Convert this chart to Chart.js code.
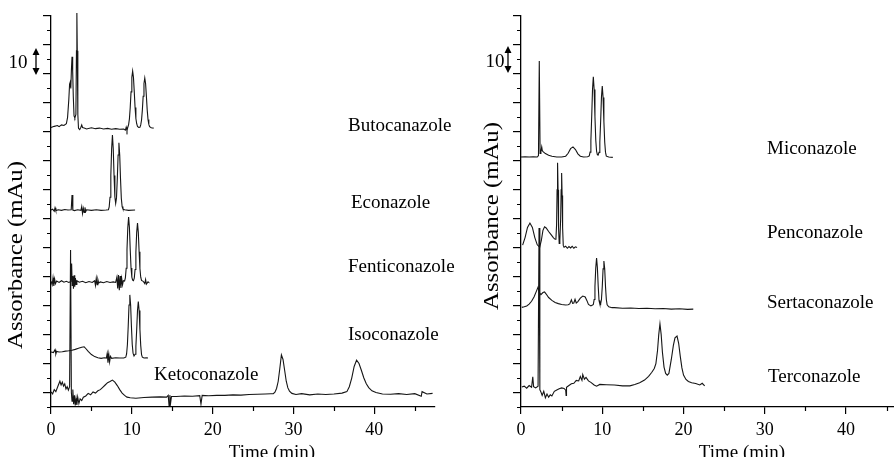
<!DOCTYPE html>
<html>
<head>
<meta charset="utf-8">
<script src="https://cdn.jsdelivr.net/npm/chart.js@4.4.1/dist/chart.umd.min.js"></script>
<style>
  body { margin: 0; background: #fff; width: 894px; height: 457px; overflow: hidden; position: relative; }
  canvas { position: absolute; top: 0; }
  #cL { left: 0; }
  #cR { left: 447px; }
</style>
</head>
<body>
<canvas id="cL" width="520" height="457"></canvas>
<canvas id="cR" width="447" height="457"></canvas>
<script>
// axis ticks (time in min, absorbance in mAu)
const timeTicks = [0, 10, 20, 30, 40];
const timeMinor = [5, 15, 25, 35, 45];
const absMajor = [0, 10, 20, 30, 40, 50, 60, 70, 80, 90, 100, 110, 120, 130];
const absMinor = [-5, 5, 15, 25, 35, 45, 55, 65, 75, 85, 95, 105, 115, 125];

const leftNames = ['Butocanazole', 'Econazole', 'Fenticonazole', 'Isoconazole', 'Ketoconazole'];
const rightNames = ['Miconazole', 'Penconazole', 'Sertaconazole', 'Terconazole'];

// chromatograms, [time, absorbance] (traces are stacked with offsets as in the figure)
const butocanazole = [
  [0, 91.5], [0.4, 91.9], [0.8, 92.2], [1.0, 91.8], [1.3, 92.4], [1.6, 92.2], [1.9, 92.8], [2.05, 95],
  [2.2, 101], [2.3, 106.5], [2.38, 107.2], [2.45, 105], [2.52, 111], [2.6, 115.9], [2.68, 111], [2.76, 102],
  [2.85, 95.5], [2.95, 94.8], [3.08, 96], [3.15, 118], [3.2, 131], [3.25, 118], [3.32, 96], [3.4, 91.2],
  [3.55, 90.8], [3.7, 91.6], [3.8, 92.4], [3.9, 91.5], [4.1, 91.3], [4.4, 91.0], [5, 91.4], [5.5, 91.1],
  [6, 91.3], [6.5, 91.0], [7, 91.2], [7.5, 90.9], [8, 91.1], [8.5, 90.9], [9, 91.0], [9.2, 90.6],
  [9.3, 91.6], [9.4, 90.4], [9.5, 91.6], [9.6, 92.5], [9.7, 94.5], [9.8, 98.4], [9.9, 103.8], [10.0, 108.8],
  [10.1, 111.0], [10.2, 108.8], [10.3, 103.8], [10.4, 98.4], [10.5, 94.6], [10.6, 92.8], [10.7, 91.9],
  [10.85, 91.5], [11.0, 91.6], [11.1, 92.4], [11.2, 94.1], [11.3, 97.5], [11.4, 102.3], [11.5, 106.7],
  [11.6, 108.6], [11.7, 106.7], [11.8, 102.3], [11.9, 97.6], [12.0, 94.3], [12.1, 92.6], [12.2, 91.8],
  [12.4, 91.4], [12.7, 91.3]
];
const econazole = [
  [0, 63.0], [0.2, 63.3], [0.4, 62.6], [0.5, 63.8], [0.6, 62.8], [0.9, 63.1], [1.3, 62.9], [1.7, 63.2],
  [2.1, 63.0], [2.5, 63.1], [2.6, 68.2], [2.7, 63.0], [2.9, 62.8], [3.3, 63.1], [3.7, 62.9], [3.8, 64.2],
  [3.9, 61.8], [4.0, 63.6], [4.1, 62.2], [4.2, 63.9], [4.3, 62.5], [4.4, 63.1], [5, 62.9], [5.6, 63.1],
  [6.2, 62.9], [6.8, 63.0], [7.1, 63.1], [7.2, 64.1], [7.3, 67.4], [7.4, 74.9], [7.5, 84.2], [7.6, 88.9],
  [7.7, 84.2], [7.8, 74.9], [7.9, 67.6], [8.0, 65.3], [8.1, 67.2], [8.2, 73.7], [8.3, 82.0], [8.4, 86.2],
  [8.5, 82.0], [8.6, 73.7], [8.7, 67.0], [8.8, 64.2], [8.9, 63.4], [9.1, 63.1], [9.6, 62.9], [10.4, 63.0]
];
const fenticonazole = [
  [0, 38.4], [0.15, 37.2], [0.25, 39.6], [0.35, 36.8], [0.45, 39.2], [0.55, 37.6], [0.7, 38.5], [1.0, 38.0],
  [1.3, 38.6], [1.6, 38.1], [1.9, 38.4], [2.2, 38.0], [2.45, 38.3], [2.55, 44.5], [2.62, 37], [2.7, 40.2],
  [2.78, 35.8], [2.86, 40.5], [2.94, 36.5], [3.02, 39.5], [3.1, 37.3], [3.2, 38.6], [3.5, 38.1], [3.9, 38.4],
  [4.3, 37.9], [4.7, 38.3], [5.1, 38.0], [5.4, 38.6], [5.5, 37.0], [5.6, 39.4], [5.7, 37.2], [5.8, 39.0],
  [5.9, 37.8], [6.1, 38.2], [6.5, 37.9], [6.9, 38.3], [7.3, 38.0], [7.7, 38.2], [8.0, 38.0], [8.15, 39.8],
  [8.25, 35.9], [8.35, 40.6], [8.45, 35.3], [8.55, 40.2], [8.65, 36.1], [8.75, 39.3], [8.85, 37.2], [8.95, 38.6],
  [9.1, 38.5], [9.2, 39.6], [9.3, 42.9], [9.4, 49.4], [9.5, 57.0], [9.6, 60.6], [9.7, 57.0], [9.8, 49.4],
  [9.9, 43.0], [10.0, 39.8], [10.1, 38.8], [10.2, 38.6], [10.3, 39.5], [10.4, 42.5], [10.5, 48.4], [10.6, 55.3],
  [10.7, 58.5], [10.8, 55.3], [10.9, 48.6], [11.0, 42.8], [11.1, 39.8], [11.2, 38.7], [11.4, 38.4], [11.6, 37.6],
  [11.7, 39.0], [11.8, 37.4], [12.0, 38.2], [12.1, 38.0]
];
const isoconazole = [
  [0, 14.0], [0.3, 13.8], [0.5, 14.8], [0.6, 13.3], [0.7, 14.2], [1.0, 14.0], [1.4, 14.1], [1.8, 14.3],
  [2.2, 14.4], [2.6, 14.6], [3.0, 14.9], [3.4, 15.3], [3.8, 15.6], [4.1, 15.8], [4.3, 15.2], [4.6, 14.2],
  [5.0, 13.1], [5.4, 12.4], [5.8, 12.0], [6.2, 11.8], [6.6, 12.0], [6.85, 11.9], [6.95, 13.5], [7.05, 10.3],
  [7.15, 13.2], [7.25, 10.6], [7.35, 12.5], [7.5, 11.8], [8.0, 12.0], [8.5, 11.9], [9.0, 11.9], [9.25, 12.2],
  [9.35, 13.3], [9.45, 16.5], [9.55, 22.8], [9.65, 30.2], [9.75, 33.7], [9.85, 30.2], [9.95, 22.8], [10.05, 16.6],
  [10.15, 13.6], [10.27, 12.6], [10.4, 13.2], [10.5, 16.0], [10.6, 21.7], [10.7, 28.3], [10.8, 31.4], [10.9, 28.3],
  [11.0, 21.8], [11.1, 16.2], [11.2, 13.1], [11.3, 12.2], [11.5, 11.9], [11.8, 12.0], [12.0, 11.9]
];
const ketoconazole = [
  [0, 0.2], [0.2, -0.5], [0.4, 1.0], [0.6, 0.3], [0.9, 2.5], [1.1, 3.9], [1.25, 2.6], [1.4, 3.6],
  [1.55, 2.2], [1.7, 3.0], [1.85, 1.2], [2.0, 2.0], [2.15, 0.8], [2.3, 2.0], [2.42, 49.2], [2.52, 0.0],
  [2.6, -3.0], [2.7, 1.0], [2.8, -4.0], [2.9, -1.0], [3.0, -4.5], [3.1, -2.0], [3.2, -4.3], [3.3, -1.5],
  [3.45, -3.8], [3.6, -2.2], [3.8, -2.8], [4.0, -1.6], [4.3, -1.2], [4.6, -0.3], [4.9, -0.8], [5.2, 0.2],
  [5.5, -0.2], [5.8, 0.6], [6.1, 1.0], [6.4, 1.8], [6.7, 2.6], [7.0, 3.4], [7.3, 3.8], [7.6, 4.3],
  [7.9, 3.6], [8.2, 2.4], [8.5, 1.0], [8.8, -0.2], [9.1, -1.0], [9.4, -1.6], [9.8, -1.8], [10.5, -2.0],
  [11.5, -1.7], [12.5, -1.6], [13.5, -1.5], [14.3, -1.6], [14.5, -1.0], [14.6, -4.5], [14.7, -0.9], [14.8, -3.5],
  [14.9, -1.4], [15.5, -1.4], [16.5, -1.2], [17.5, -1.3], [18.4, -1.1], [18.55, -4.0], [18.7, -1.0], [19.5, -1.1],
  [20.5, -1.0], [21.5, -1.0], [22.5, -0.8], [23.5, -0.9], [24.5, -0.7], [25.5, -0.6], [26.5, -0.5], [27.2, -0.4],
  [27.5, -0.4], [27.7, 0.1], [27.9, 1.4], [28.1, 3.8], [28.3, 8.2], [28.5, 13.0], [28.7, 11.4], [28.9, 7.7],
  [29.1, 3.9], [29.3, 1.6], [29.5, 0.5], [29.8, -0.3], [30.3, -0.7], [31, -0.4], [32, -0.8], [33, -0.5],
  [34, -0.7], [35, -0.5], [36, -0.2], [36.6, 0.3], [36.9, 2.0], [37.2, 5.0], [37.5, 9.0], [37.8, 11.2],
  [38.1, 10.0], [38.4, 7.6], [38.7, 5.0], [39.0, 3.0], [39.3, 1.7], [39.7, 0.6], [40.2, 0.0], [41, -0.5],
  [42, -0.6], [43, -0.4], [44, -0.7], [45, -0.4], [45.8, -1.3], [45.9, 0.3], [46.5, -0.5], [47.2, -0.3]
];

const miconazole = [
  [0, 81.3], [0.5, 81.4], [1.0, 81.3], [1.5, 81.4], [2.0, 81.3], [2.15, 81.8], [2.25, 114.5], [2.35, 82.5],
  [2.45, 83.2], [2.55, 84.8], [2.62, 83.5], [2.75, 83.1], [3.0, 82.5], [3.4, 81.9], [3.8, 81.6], [4.4, 81.3],
  [5.0, 81.3], [5.5, 81.6], [5.8, 82.6], [6.1, 84.2], [6.4, 84.8], [6.7, 83.9], [7.0, 82.4], [7.3, 81.6],
  [7.7, 81.3], [8.2, 81.4], [8.4, 81.7], [8.5, 83.0], [8.6, 87.1], [8.7, 95.2], [8.8, 104.6], [8.9, 109.0],
  [9.0, 104.6], [9.1, 95.2], [9.2, 87.2], [9.3, 83.3], [9.4, 82.1], [9.5, 82.0], [9.6, 82.9], [9.7, 86.5],
  [9.8, 93.6], [9.9, 101.9], [10.0, 105.8], [10.1, 101.9], [10.2, 93.6], [10.3, 86.5], [10.4, 82.9], [10.5, 81.6],
  [10.8, 81.3], [11.3, 81.2]
];
const penconazole = [
  [0.2, 50.9], [0.5, 53.5], [0.8, 57.0], [1.1, 58.5], [1.4, 57.0], [1.7, 53.5], [2.0, 51.0], [2.3, 50.2],
  [2.5, 52.5], [2.7, 56.0], [2.9, 57.2], [3.1, 56.8], [3.4, 55.6], [3.7, 54.5], [4.0, 53.4], [4.2, 52.9],
  [4.3, 53.2], [4.38, 58], [4.44, 70], [4.5, 79.3], [4.56, 70], [4.62, 57], [4.7, 51.5], [4.78, 52.5],
  [4.88, 60], [4.94, 70], [5.0, 75.8], [5.06, 68], [5.12, 57], [5.2, 50.8], [5.3, 50.2], [5.5, 50.5],
  [5.7, 49.8], [5.9, 50.4], [6.1, 49.9], [6.3, 50.5], [6.5, 49.8], [6.7, 50.3], [6.9, 50.1]
];
const sertaconazole = [
  [0.1, 29.4], [0.4, 29.6], [0.7, 29.9], [1.0, 30.5], [1.3, 31.5], [1.6, 33.0], [1.9, 35.0], [2.1, 36.4],
  [2.25, 34.5], [2.45, 33.8], [2.7, 34.5], [2.9, 34.7], [3.1, 34.0], [3.4, 32.8], [3.8, 31.8], [4.2, 31.1],
  [4.6, 30.7], [5.0, 30.4], [5.5, 30.2], [5.8, 30.3], [6.0, 30.6], [6.2, 32.0], [6.35, 30.8], [6.5, 30.9],
  [6.65, 32.2], [6.8, 30.9], [7.0, 31.4], [7.3, 32.6], [7.6, 33.3], [7.9, 33.0], [8.1, 31.8], [8.3, 30.4],
  [8.6, 29.9], [8.8, 30.2], [8.9, 30.4], [9.0, 32.1], [9.1, 36.7], [9.2, 43.1], [9.3, 46.4], [9.4, 43.1],
  [9.5, 36.8], [9.6, 31.8], [9.7, 30.6], [9.75, 30.3], [9.8, 30.6], [9.9, 32.1], [10.0, 36.5], [10.1, 42.7],
  [10.2, 45.4], [10.3, 42.7], [10.4, 36.5], [10.5, 32.1], [10.6, 30.3], [10.8, 29.6], [11.2, 29.3], [11.5, 29.3],
  [12.5, 29.1], [13.5, 29.2], [14.5, 29.0], [15.5, 29.1], [16.5, 28.9], [17.5, 29.0], [18.5, 28.8], [19.5, 28.9],
  [20.5, 28.7], [21.2, 28.8]
];
const terconazole = [
  [0.1, 1.9], [0.4, 2.2], [0.7, 1.5], [1.0, 2.4], [1.3, 1.8], [1.45, 5.4], [1.55, 2.0], [1.8, 1.6],
  [2.1, 2.2], [2.22, 56.8], [2.32, 1.0], [2.45, 0.2], [2.6, -1.0], [2.8, 0.4], [3.0, -1.8], [3.2, -0.5],
  [3.4, -1.6], [3.6, -0.8], [3.8, -1.2], [4.1, 0.4], [4.4, 0.9], [4.7, 1.3], [5.0, 1.6], [5.3, 1.4],
  [5.5, 0.8], [5.55, -1.0], [5.6, 1.8], [5.9, 2.4], [6.2, 3.0], [6.5, 3.2], [6.8, 4.2], [7.1, 4.0],
  [7.3, 5.5], [7.5, 4.2], [7.6, 6.2], [7.8, 4.6], [8.0, 5.2], [8.3, 4.0], [8.6, 3.5], [9.0, 2.6],
  [9.3, 2.2], [9.7, 2.8], [10.5, 2.7], [11.5, 2.6], [12.5, 2.3], [13.4, 2.3], [14.0, 2.8], [14.6, 3.4],
  [15.2, 4.3], [15.7, 5.6], [16.1, 7.0], [16.4, 8.3], [16.6, 10.0], [16.8, 14.5], [16.95, 20.0], [17.1, 23.7],
  [17.25, 20.0], [17.4, 14.0], [17.6, 8.8], [17.8, 6.6], [18.0, 6.0], [18.2, 6.6], [18.5, 11.5], [18.75, 16.3],
  [18.95, 18.9], [19.2, 19.5], [19.4, 17.0], [19.6, 12.5], [19.8, 8.5], [20.0, 6.0], [20.3, 4.5], [20.6, 3.8],
  [21.0, 3.4], [21.5, 3.1], [22.0, 2.6], [22.3, 3.2], [22.6, 2.3]
];

const SERIF = "'Liberation Serif', 'Times New Roman', serif";

// minor ticks, titles, the 10 mAu bar and the compound names
const decor = {
  id: 'decor',
  afterDraw(chart, args, o) {
    const { ctx } = chart;
    const x = chart.scales.x, y = chart.scales.y;
    ctx.save();
    ctx.strokeStyle = '#000';
    ctx.lineWidth = 1.2;
    ctx.beginPath();
    timeMinor.forEach(v => {
      if (v > x.max) return;
      const px = Math.round(x.getPixelForValue(v)) + 0.5;
      ctx.moveTo(px, y.bottom);
      ctx.lineTo(px, y.bottom + 4);
    });
    absMinor.forEach(v => {
      const py = Math.round(y.getPixelForValue(v)) + 0.5;
      ctx.moveTo(x.left, py);
      ctx.lineTo(x.left - 4, py);
    });
    ctx.stroke();

    ctx.fillStyle = '#000';
    ctx.font = '19px ' + SERIF;
    ctx.textBaseline = 'middle';
    ctx.textAlign = 'left';
    o.names.forEach((n, i) => ctx.fillText(n, o.namePos[i][0], o.namePos[i][1]));

    ctx.textAlign = 'center';
    ctx.fillText('Time (min)', o.xTitle[0], o.xTitle[1]);

    // 10 mAu bar
    ctx.fillText('10', o.bar.tx, o.bar.ty);
    ctx.lineWidth = 1.3;
    ctx.beginPath();
    ctx.moveTo(o.bar.x, o.bar.y0 + 5);
    ctx.lineTo(o.bar.x, o.bar.y1 - 5);
    ctx.stroke();
    ctx.beginPath();
    ctx.moveTo(o.bar.x, o.bar.y0);
    ctx.lineTo(o.bar.x - 3.5, o.bar.y0 + 7);
    ctx.lineTo(o.bar.x + 3.5, o.bar.y0 + 7);
    ctx.closePath();
    ctx.moveTo(o.bar.x, o.bar.y1);
    ctx.lineTo(o.bar.x - 3.5, o.bar.y1 - 7);
    ctx.lineTo(o.bar.x + 3.5, o.bar.y1 - 7);
    ctx.closePath();
    ctx.fill();

    // y title, stretched along its length like the original
    const t = 'Assorbance (mAu)';
    ctx.translate(o.yTitle[0], o.yTitle[1]);
    ctx.rotate(-Math.PI / 2);
    ctx.font = '20px ' + SERIF;
    const w = ctx.measureText(t).width;
    ctx.scale(o.yTitleLen / w, 1);
    ctx.fillText(t, 0, 0);
    ctx.restore();
  }
};

function makeChart(id, traces, xMax, yWidth, padRight, deco) {
  return new Chart(document.getElementById(id), {
    type: 'line',
    data: {
      datasets: traces.map(tr => ({
        data: tr.map(([t, a]) => ({ x: t, y: a })),
        borderColor: '#151515',
        borderWidth: 1.1,
        pointRadius: 0,
        tension: 0,
        clip: false
      }))
    },
    options: {
      responsive: false,
      animation: false,
      devicePixelRatio: 1,
      events: [],
      layout: { padding: { top: 16, right: padRight, left: 0, bottom: 0 } },
      plugins: { legend: { display: false }, tooltip: { enabled: false }, decor: deco },
      scales: {
        x: {
          type: 'linear',
          min: 0,
          max: xMax,
          afterBuildTicks: s => { s.ticks = timeTicks.map(v => ({ value: v })); },
          afterFit: s => { s.height = 50; },
          ticks: { color: '#000', font: { family: SERIF, size: 18 }, padding: 5, maxRotation: 0, autoSkip: false },
          grid: { drawOnChartArea: false, tickLength: 7, color: '#000', lineWidth: 1.2 },
          border: { display: true, color: '#000', width: 1.3 }
        },
        y: {
          type: 'linear',
          min: -5,
          max: 130,
          afterBuildTicks: s => { s.ticks = absMajor.map(v => ({ value: v })); },
          afterFit: s => { s.width = yWidth; },
          ticks: { display: false },
          grid: { drawOnChartArea: false, tickLength: 8, color: '#000', lineWidth: 1.2 },
          border: { display: true, color: '#000', width: 1.3 }
        }
      }
    },
    plugins: [decor]
  });
}

// left canvas is wider than its half so the long names are not cut; its plot still ends at x = 435
makeChart('cL', [butocanazole, econazole, fenticonazole, isoconazole, ketoconazole], 47.5, 51, 85, {
  names: leftNames,
  namePos: [[348, 126], [351, 203], [348, 267], [348, 335], [154, 375]],
  xTitle: [272, 453],
  yTitle: [17, 255],
  yTitleLen: 188,
  bar: { tx: 18, ty: 63, x: 36, y0: 48, y1: 75 }
});

makeChart('cR', [miconazole, penconazole, sertaconazole, terconazole], 45.9, 74, 0, {
  names: rightNames,
  namePos: [[320, 149], [320, 233], [320, 303], [321, 377]],
  xTitle: [295, 453],
  yTitle: [46, 216],
  yTitleLen: 188,
  bar: { tx: 48, ty: 62, x: 61, y0: 46, y1: 73 }
});
</script>
</body>
</html>
